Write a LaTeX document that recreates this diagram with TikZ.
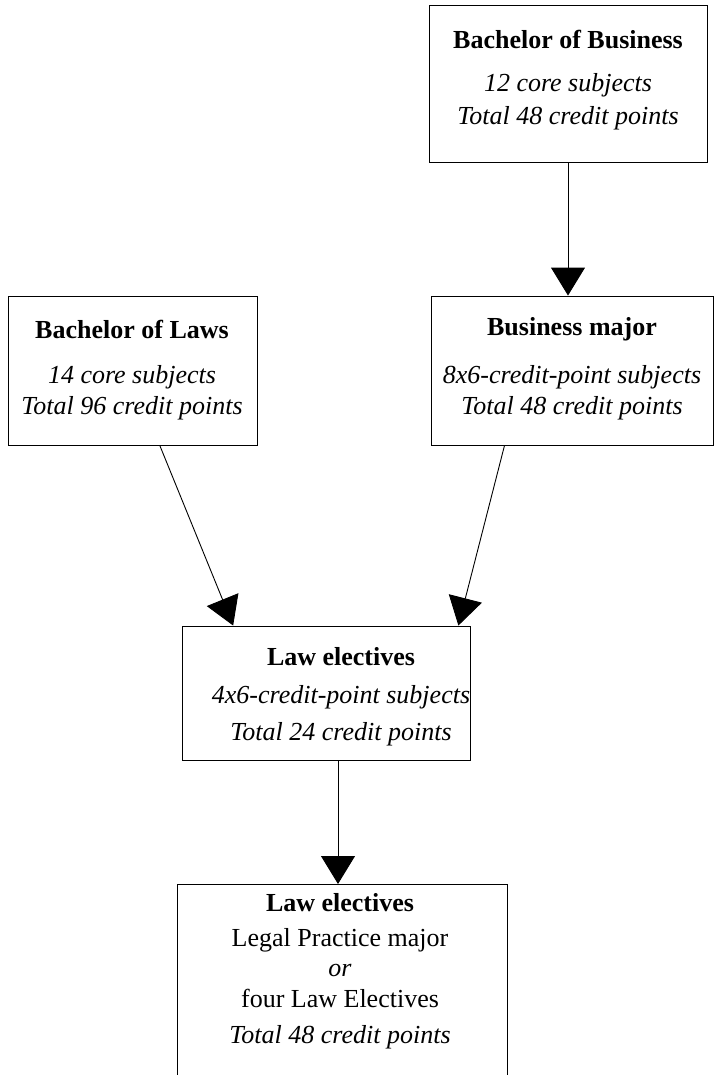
\documentclass[tikz,border=0pt]{standalone}
\usepackage{fontspec}
\setmainfont{Liberation Serif}
\usetikzlibrary{arrows.meta}
\tikzset{
  box/.style={draw, rectangle, line width=0.9pt, inner sep=0pt},
  head/.style={font=\fontsize{26}{30}\selectfont\bfseries, inner sep=0pt},
  sub/.style={font=\fontsize{26}{30}\selectfont\itshape, inner sep=0pt},
  plain/.style={font=\fontsize{26}{30}\selectfont, inner sep=0pt},
  arr/.style={line width=0.9pt, -{Triangle[length=28pt,width=34pt]}}
}
\begin{document}
\begin{tikzpicture}[x=1pt,y=-1pt]
  \useasboundingbox (0,0) rectangle (714,1075);
  % boxes
  \node[box, minimum width=278pt, minimum height=157pt] (bb) at (568,83.5) {};
  \node[box, minimum width=249pt, minimum height=149pt] (laws) at (132.5,370.5) {};
  \node[box, minimum width=282pt, minimum height=149pt] (busmaj) at (572,370.5) {};
  \node[box, minimum width=288pt, minimum height=134pt] (mid) at (326,693) {};
  \node[box, minimum width=330pt, minimum height=206pt] (bot) at (342,987) {};
  % texts
  \node[head] (bbhead) at (568,40) {Bachelor of Business};
  \node[sub] (bbone) at (568,85) {12 core subjects};
  \node[sub] (bbtwo) at (568,118) {Total 48 credit points};
  \node[head] (lawshead) at (132,329) {Bachelor of Laws};
  \node[sub] (lawsone) at (132,377) {14 core subjects};
  \node[sub] (lawstwo) at (132,408) {Total 96 credit points};
  \node[head] (bmhead) at (572,329) {Business major};
  \node[sub] (bmone) at (572,377) {8x6-credit-point subjects};
  \node[sub] (bmtwo) at (572,408) {Total 48 credit points};
  \node[head] (midhead) at (341,657) {Law electives};
  \node[sub] (midone) at (341,697) {4x6-credit-point subjects};
  \node[sub] (midtwo) at (341,734) {Total 24 credit points};
  \node[head] (bothead) at (340,903) {Law electives};
  \node[plain] (botone) at (340,940) {Legal Practice major};
  \node[sub] (botor) at (340,970) {or};
  \node[plain] (bottwo) at (340,998) {four Law Electives};
  \node[sub] (botthree) at (340,1037) {Total 48 credit points};
  % arrows
  \coordinate (botin) at (338,884);
  \draw[arr] (bb.south) -- (bb.south |- busmaj.north);
  \draw[arr] (laws.-70) -- (mid.144);
  \draw[arr] (busmaj.-132) -- (mid.27);
  \draw[arr] (mid.south -| botin) -- (botin);
\end{tikzpicture}
\end{document}
